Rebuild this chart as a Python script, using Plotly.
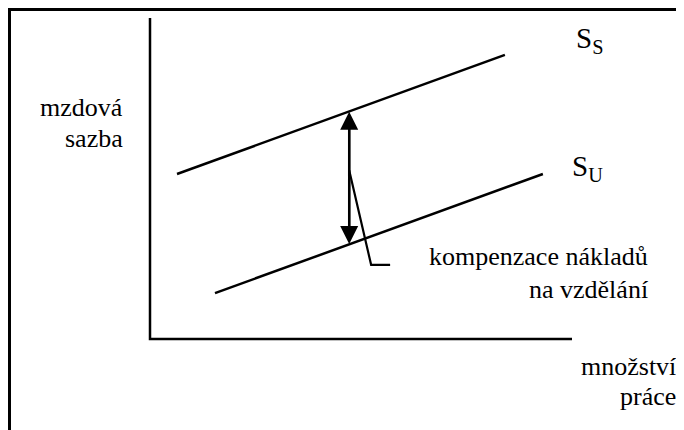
import plotly.graph_objects as go

# Data (diagram coordinates: quantity of labour on x, wage rate on y, 0..100)
axis_x = [0, 0, 100]
axis_y = [100, 0, 0]

ss_x = [6.4, 84.1]      # supply of skilled labour S_S
ss_y = [51.4, 88.5]
su_x = [15.4, 93.1]     # supply of unskilled labour S_U
su_y = [14.3, 51.4]

gap_x = 47.2            # vertical compensation arrow
gap_top = 70.8
gap_bottom = 29.6
gap_mid = 50.2

leader_x = [47.2, 52.4, 56.9]
leader_y = [52.6, 23.1, 23.1]

# text labels: (lines, y of each line)
ylabel_lines = ["mzdová", "sazba"]
ylabel_y = [72.0, 62.6]
xlabel_lines = ["množství", "práce"]
xlabel_y = [-8.5, -17.9]
note_lines = ["kompenzace nákladů", "na vzdělání"]
note_y = [25.8, 15.4]

FONT = "Liberation Serif"
BLACK = "#000000"
SX, SY = 4.22, 3.21      # pixels per data unit
OX, OY = 142, 331        # origin in figure pixels

fig = go.Figure()
fig.add_trace(go.Scatter(x=axis_x, y=axis_y, mode="lines",
                         line=dict(color=BLACK, width=2.5), hoverinfo="skip"))
fig.add_trace(go.Scatter(x=ss_x, y=ss_y, mode="lines",
                         line=dict(color=BLACK, width=2.5), hoverinfo="skip"))
fig.add_trace(go.Scatter(x=su_x, y=su_y, mode="lines",
                         line=dict(color=BLACK, width=2.5), hoverinfo="skip"))
fig.add_trace(go.Scatter(x=leader_x, y=leader_y, mode="lines",
                         line=dict(color=BLACK, width=2.2), hoverinfo="skip"))
# arrow shaft
fig.add_trace(go.Scatter(x=[gap_x, gap_x], y=[gap_bottom + 2, gap_top - 2], mode="lines",
                         line=dict(color=BLACK, width=2.4), hoverinfo="skip"))

# arrow heads
for head in (gap_top, gap_bottom):
    fig.add_annotation(x=gap_x, y=head, ax=gap_x, ay=gap_mid, xref="x", yref="y",
                       axref="x", ayref="y", text="", showarrow=True,
                       arrowhead=2, arrowsize=1.5, arrowwidth=2.4, arrowcolor=BLACK,
                       standoff=0, startstandoff=0)

txt = dict(family=FONT, size=26, color=BLACK)
for lines, xr, ys in ((ylabel_lines, -6.0, ylabel_y),
                      (xlabel_lines, 125.0, xlabel_y),
                      (note_lines, 118.6, note_y)):
    for t, yy in zip(lines, ys):
        fig.add_annotation(x=xr, y=yy, xref="x", yref="y", text=t, showarrow=False,
                           xanchor="right", yanchor="middle", font=txt)

fig.add_annotation(x=100.5, y=93.0, xref="x", yref="y", text="S<sub>S</sub>",
                   showarrow=False, xanchor="left", yanchor="middle",
                   font=dict(family=FONT, size=29, color=BLACK))
fig.add_annotation(x=99.5, y=53.4, xref="x", yref="y", text="S<sub>U</sub>",
                   showarrow=False, xanchor="left", yanchor="middle",
                   font=dict(family=FONT, size=29, color=BLACK))

# frame around the figure
fig.add_shape(type="rect", xref="paper", yref="paper", x0=1.5/684, y0=-0.05,
              x1=1.05, y1=1 - 1.5/430, line=dict(color=BLACK, width=3))

fig.update_xaxes(range=[-OX/SX, (684-OX)/SX], visible=False, fixedrange=True)
fig.update_yaxes(range=[-(430-OY)/SY, OY/SY], visible=False, fixedrange=True)
fig.update_layout(width=684, height=430, margin=dict(l=0, r=0, t=0, b=0),
                  showlegend=False, plot_bgcolor="white", paper_bgcolor="white",
                  font=dict(family=FONT))

fig.write_html("out.html")
